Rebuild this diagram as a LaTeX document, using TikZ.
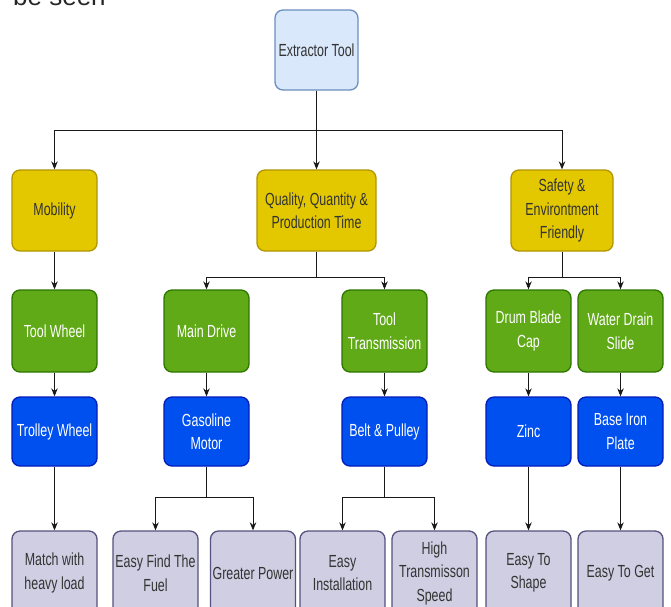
\documentclass[tikz,border=0pt]{standalone}
\usepackage{fontspec}
\setmainfont{Liberation Sans}
\newfontfamily\boxfont[FakeStretch=0.71]{Liberation Sans}
\usetikzlibrary{arrows.meta}
\definecolor{rootfill}{HTML}{DAE8FC}\definecolor{rootline}{HTML}{6C8EBF}
\definecolor{yelfill}{HTML}{E3C800}\definecolor{yelline}{HTML}{B09500}
\definecolor{grnfill}{HTML}{60A917}\definecolor{grnline}{HTML}{2D7600}
\definecolor{blufill}{HTML}{0050EF}\definecolor{bluline}{HTML}{001DBC}
\definecolor{lavfill}{HTML}{D0CEE2}\definecolor{lavline}{HTML}{56517E}
\definecolor{darktext}{HTML}{333333}
\tikzset{
  box/.style={draw, line width=1.3pt, rounded corners=8pt, inner sep=0pt,
    align=center, minimum width=85pt,
    font=\boxfont\fontsize{17.5}{23.5}\selectfont},
  rootbox/.style={box, fill=rootfill, draw=rootline, text=darktext},
  yelbox/.style={box, fill=yelfill, draw=yelline, text=darktext, minimum height=81pt},
  grnbox/.style={box, fill=grnfill, draw=grnline, text=white, minimum height=82pt},
  blubox/.style={box, fill=blufill, draw=bluline, text=white, minimum height=69pt},
  lavbox/.style={box, fill=lavfill, draw=lavline, text=darktext, minimum height=84pt},
  link/.style={line width=0.9pt, draw=black!90, -{Stealth[length=8pt,width=6.5pt]}}
}
\begin{document}
\begin{tikzpicture}[x=1pt,y=-1pt]
\useasboundingbox (0,0) rectangle (671,606);
\clip (0,0) rectangle (671,606);
\fill[white] (0,0) rectangle (671,606);

% leftover caption line running off the top edge
\node[anchor=base west, inner sep=0pt, font=\fontsize{26}{30}\selectfont, text=black!85] (cap) at (13,5) {be seen};

% root
\node[rootbox, minimum width=83pt, minimum height=80pt] (root) at (316.5,50) {Extractor Tool};

% first level
\node[yelbox] (mob) at (54.5,210.5) {Mobility};
\node[yelbox, minimum width=119pt] (qual) at (316.5,210.5) {Quality, Quantity \&\\Production Time};
\node[yelbox, minimum width=102pt] (safe) at (562,210.5) {Safety \&\\Environtment\\Friendly};

% second level
\node[grnbox] (tw) at (54.5,331) {Tool Wheel};
\node[grnbox] (md) at (206.5,331) {Main Drive};
\node[grnbox] (tt) at (384.5,331) {Tool\\Transmission};
\node[grnbox] (db) at (528.5,331) {Drum Blade\\Cap};
\node[grnbox] (wd) at (620.5,331) {Water Drain\\Slide};

% third level
\node[blubox] (trw) at (54.5,431.5) {Trolley Wheel};
\node[blubox] (gm) at (206.5,431.5) {Gasoline\\Motor};
\node[blubox] (bp) at (384.5,431.5) {Belt \& Pulley};
\node[blubox] (zn) at (528.5,431.5) {Zinc};
\node[blubox] (bi) at (620.5,431.5) {Base Iron\\Plate};

% fourth level
\node[lavbox] (mh) at (54.5,573) {Match with\\heavy load};
\node[lavbox] (ef) at (155.5,573) {Easy Find The\\Fuel};
\node[lavbox] (gp) at (253,573) {Greater Power};
\node[lavbox] (ei) at (342.5,573) {Easy\\Installation};
\node[lavbox] (ht) at (434.5,573) {High\\Transmisson\\Speed};
\node[lavbox] (es) at (528.5,573) {Easy To\\Shape};
\node[lavbox] (eg) at (620.5,573) {Easy To Get};

% connectors
\draw[link] (root.south) -- ++(0,40) -| (mob.north);
\draw[link] (root.south) -- (qual.north);
\draw[link] (root.south) -- ++(0,40) -| (safe.north);

\draw[link] (mob) -- (tw);
\draw[link] (qual.south) -- ++(0,26) -| (md.north);
\draw[link] (qual.south) -- ++(0,26) -| (tt.north);
\draw[link] (safe.south) -- ++(0,26) -| (db.north);
\draw[link] (safe.south) -- ++(0,26) -| (wd.north);

\draw[link] (tw) -- (trw);
\draw[link] (md) -- (gm);
\draw[link] (tt) -- (bp);
\draw[link] (db) -- (zn);
\draw[link] (wd) -- (bi);

\draw[link] (trw) -- (mh);
\draw[link] (gm.south) -- ++(0,31) -| (ef.north);
\draw[link] (gm.south) -- ++(0,31) -| (gp.north);
\draw[link] (bp.south) -- ++(0,31) -| (ei.north);
\draw[link] (bp.south) -- ++(0,31) -| (ht.north);
\draw[link] (zn) -- (es);
\draw[link] (bi) -- (eg);
\end{tikzpicture}
\end{document}
